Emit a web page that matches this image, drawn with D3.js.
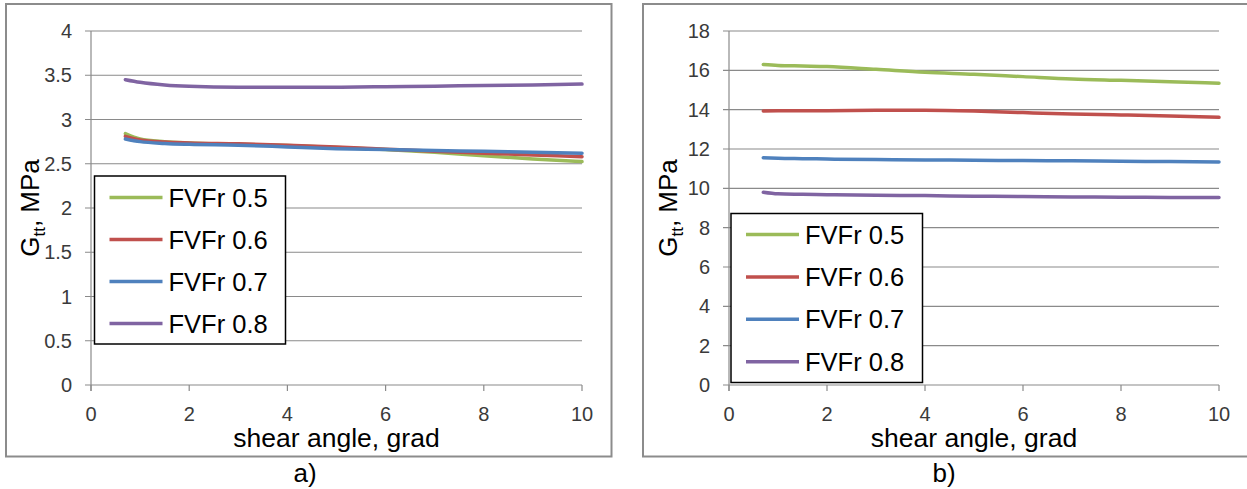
<!DOCTYPE html>
<html>
<head>
<meta charset="utf-8">
<script src="https://cdn.jsdelivr.net/npm/d3@7"></script>
<style>
  body { margin: 0; background: #fff; }
  text { font-family: "Liberation Sans", Arial, sans-serif; }
</style>
</head>
<body>
<div id="chart"></div>
<script>
// data
const shearAngle = [0.7, 1, 1.5, 2, 3, 4, 5, 6, 7, 8, 9, 10];
const seriesNames = ["FVFr 0.5", "FVFr 0.6", "FVFr 0.7", "FVFr 0.8"];
const seriesColors = ["#9BBB59", "#C0504D", "#4F81BD", "#8064A2"];

// panel a)
const gA05 = [2.84, 2.78, 2.75, 2.735, 2.72, 2.705, 2.685, 2.66, 2.63, 2.59, 2.555, 2.525];
const gA06 = [2.81, 2.77, 2.745, 2.735, 2.725, 2.71, 2.69, 2.665, 2.64, 2.62, 2.60, 2.58];
const gA07 = [2.78, 2.75, 2.73, 2.72, 2.71, 2.69, 2.67, 2.66, 2.65, 2.64, 2.63, 2.62];
const gA08 = [3.45, 3.42, 3.39, 3.375, 3.365, 3.365, 3.365, 3.37, 3.375, 3.385, 3.39, 3.40];
const ticksA = [0, 0.5, 1, 1.5, 2, 2.5, 3, 3.5, 4];

// panel b)
const gB05 = [16.3, 16.25, 16.22, 16.19, 16.05, 15.9, 15.8, 15.68, 15.56, 15.49, 15.42, 15.34];
const gB06 = [13.93, 13.94, 13.95, 13.95, 13.97, 13.97, 13.93, 13.85, 13.78, 13.73, 13.68, 13.61];
const gB07 = [11.56, 11.53, 11.51, 11.49, 11.46, 11.44, 11.43, 11.41, 11.4, 11.38, 11.36, 11.34];
const gB08 = [9.80, 9.72, 9.70, 9.68, 9.65, 9.63, 9.60, 9.58, 9.56, 9.55, 9.54, 9.53];
const ticksB = [0, 2, 4, 6, 8, 10, 12, 14, 16, 18];

const xTicks = [0, 2, 4, 6, 8, 10];

const W = 1247, H = 489;
const svg = d3.select("#chart").append("svg").attr("width", W).attr("height", H);

const gridColor = "#8a8a8a";

function panel(o) {
  // ramme rundt om diagrammet
  svg.append("rect")
    .attr("x", o.frame[0]).attr("y", o.frame[1])
    .attr("width", o.frame[2]).attr("height", o.frame[3])
    .attr("fill", "#fff").attr("stroke", "#8c8c8c").attr("stroke-width", 2);

  var x = d3.scaleLinear().domain([0, 10]).range([o.left, o.right]);
  var y = d3.scaleLinear().domain([0, o.yMax]).range([o.bottom, o.top]);

  // gridlines + y ticks
  o.yTicks.forEach(function (t) {
    svg.append("line")
      .attr("x1", o.left - 6).attr("x2", o.right)
      .attr("y1", y(t)).attr("y2", y(t))
      .attr("stroke", gridColor).attr("stroke-width", 1.2);
    svg.append("text")
      .attr("x", o.left - 19).attr("y", y(t) + 7)
      .attr("text-anchor", "end")
      .attr("font-size", 20).attr("fill", "#3a3a3a")
      .text(t);
  });

  // y axis line
  svg.append("line")
    .attr("x1", o.left).attr("x2", o.left)
    .attr("y1", o.top).attr("y2", o.bottom + 6)
    .attr("stroke", gridColor).attr("stroke-width", 1.2);

  // x ticks
  xTicks.forEach(function (t) {
    svg.append("line")
      .attr("x1", x(t)).attr("x2", x(t))
      .attr("y1", o.bottom).attr("y2", o.bottom + 6)
      .attr("stroke", gridColor).attr("stroke-width", 1.2);
    svg.append("text")
      .attr("x", x(t)).attr("y", o.bottom + 36)
      .attr("text-anchor", "middle")
      .attr("font-size", 20).attr("fill", "#3a3a3a")
      .text(t);
  });

  // lines
  var line = d3.line()
    .x(function (d, i) { return x(shearAngle[i]); })
    .y(function (d) { return y(d); })
    .curve(d3.curveMonotoneX);

  o.series.forEach(function (s, i) {
    svg.append("path")
      .attr("d", line(s))
      .attr("fill", "none")
      .attr("stroke", seriesColors[i])
      .attr("stroke-width", 3.5)
      .attr("stroke-linecap", "round");
  });

  // axis titles
  svg.append("text")
    .attr("x", (o.left + o.right) / 2).attr("y", o.bottom + 62)
    .attr("text-anchor", "middle")
    .attr("font-size", 26.5).attr("fill", "#000")
    .text("shear angle, grad");

  var yl = svg.append("text")
    .attr("transform", "translate(" + o.yLabelX + "," + ((o.top + o.bottom) / 2) + ") rotate(-90)")
    .attr("text-anchor", "middle")
    .attr("font-size", 26).attr("fill", "#000");
  yl.append("tspan").text("G");
  yl.append("tspan").attr("font-size", 17).attr("dy", 6).text("tt");
  yl.append("tspan").attr("dy", -6).text(", MPa");

  // legend
  var lg = o.legend;
  svg.append("rect")
    .attr("x", lg.x).attr("y", lg.y).attr("width", lg.w).attr("height", lg.h)
    .attr("fill", "#fff").attr("stroke", "#000").attr("stroke-width", 1.5);
  seriesNames.forEach(function (name, i) {
    var ry = lg.firstRow + i * lg.step;
    svg.append("line")
      .attr("x1", lg.x + 15).attr("x2", lg.x + 68)
      .attr("y1", ry).attr("y2", ry)
      .attr("stroke", seriesColors[i]).attr("stroke-width", 3.5);
    svg.append("text")
      .attr("x", lg.x + 74).attr("y", ry + 9)
      .attr("font-size", 25.5).attr("fill", "#000")
      .text(name);
  });

  // panel letter
  svg.append("text")
    .attr("x", o.letterX).attr("y", 482)
    .attr("text-anchor", "middle")
    .attr("font-size", 26).attr("fill", "#000")
    .text(o.letter);
}

panel({
  frame: [6, 4, 605.5, 452.5],
  left: 91, right: 582, top: 31, bottom: 385,
  yMax: 4, yTicks: ticksA,
  series: [gA05, gA06, gA07, gA08],
  yLabelX: 39,
  legend: { x: 94.5, y: 176, w: 191, h: 168, firstRow: 197.5, step: 42 },
  letter: "a)", letterX: 305
});

panel({
  frame: [643, 4, 640, 452.5],
  left: 729, right: 1219, top: 31, bottom: 385,
  yMax: 18, yTicks: ticksB,
  series: [gB05, gB06, gB07, gB08],
  yLabelX: 677,
  legend: { x: 731, y: 213.5, w: 191.5, h: 169, firstRow: 234.5, step: 42.4 },
  letter: "b)", letterX: 944
});
</script>
</body>
</html>
